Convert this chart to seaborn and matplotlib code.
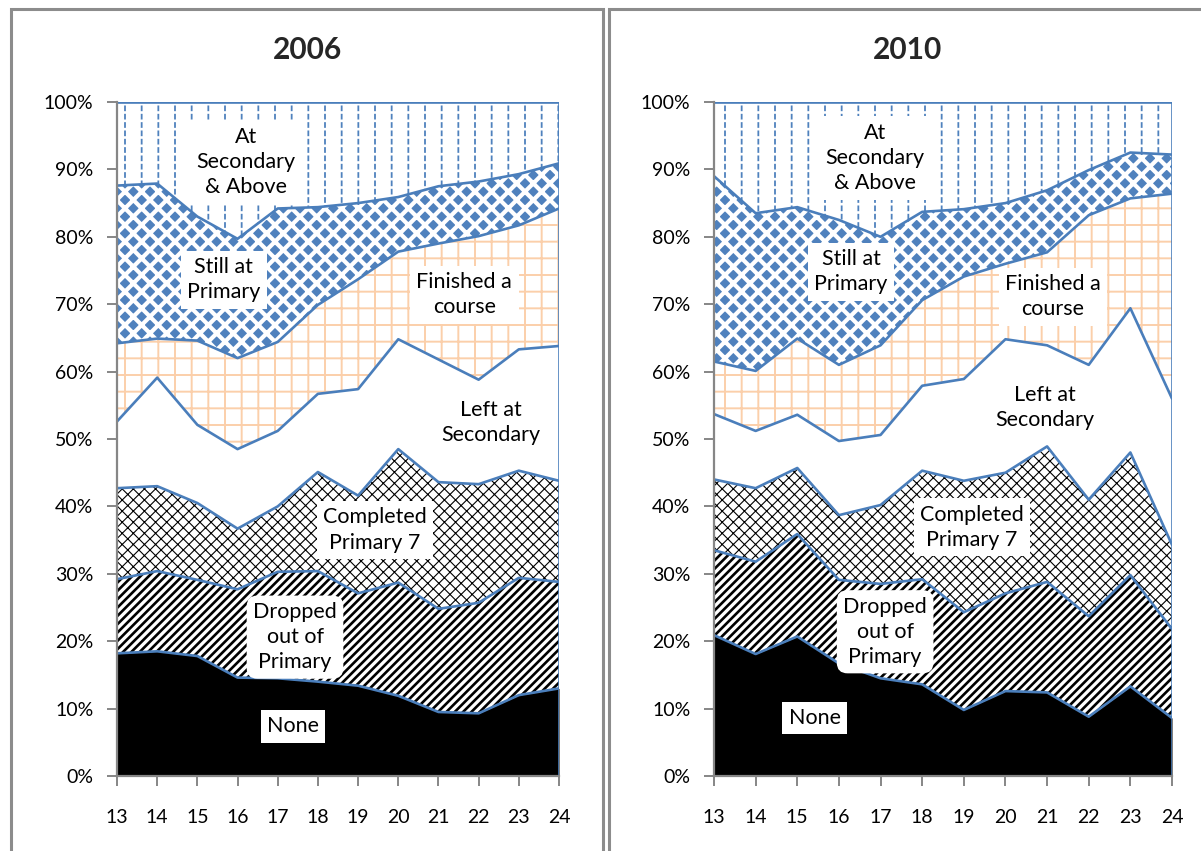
import numpy as np
import matplotlib
matplotlib.use("Agg")
import matplotlib.pyplot as plt
import seaborn as sns
from matplotlib.patches import Rectangle
from matplotlib.ticker import FuncFormatter

# ---------------- data (percent of each age group) ----------------
ages = [13, 14, 15, 16, 17, 18, 19, 20, 21, 22, 23, 24]
categories = ["None", "Dropped out of Primary", "Completed Primary 7",
              "Left at Secondary", "Finished a course", "Still at Primary",
              "At Secondary & Above"]
years = ["2006", "2010"]

none_2006      = [18.2, 18.5, 17.8, 14.6, 14.5, 14.0, 13.4, 11.9, 9.5, 9.3, 12.0, 13.0]
dropped_2006   = [11.0, 11.9, 11.3, 13.1, 15.8, 16.4, 13.7, 16.8, 15.3, 16.4, 17.4, 15.8]
completed_2006 = [13.5, 12.6, 11.4, 9.0, 9.7, 14.7, 14.5, 19.8, 18.8, 17.6, 15.9, 15.0]
leftsec_2006   = [9.9, 16.1, 11.6, 11.8, 11.2, 11.6, 15.8, 16.3, 18.2, 15.5, 18.0, 20.0]
finished_2006  = [11.6, 5.8, 12.5, 13.5, 13.2, 13.2, 16.3, 13.0, 17.2, 21.3, 18.4, 20.4]
stillpri_2006  = [23.4, 23.0, 18.4, 17.7, 19.8, 14.5, 11.3, 8.1, 8.5, 8.1, 7.6, 6.7]
atsec_2006     = [12.4, 12.1, 17.0, 20.3, 15.8, 15.6, 15.0, 14.1, 12.5, 11.8, 10.7, 9.1]

none_2010      = [20.9, 18.1, 20.7, 16.7, 14.5, 13.6, 9.8, 12.6, 12.4, 8.8, 13.3, 8.6]
dropped_2010   = [12.6, 13.7, 15.2, 12.4, 14.0, 15.6, 14.5, 14.5, 16.4, 14.9, 16.5, 13.2]
completed_2010 = [10.5, 10.9, 9.8, 9.6, 11.7, 16.1, 19.5, 17.9, 20.1, 17.3, 18.2, 12.5]
leftsec_2010   = [9.7, 8.5, 7.9, 11.0, 10.4, 12.6, 15.1, 19.8, 15.0, 20.0, 21.4, 21.7]
finished_2010  = [7.8, 8.9, 11.3, 11.3, 13.3, 12.7, 15.2, 11.2, 13.8, 22.2, 16.3, 30.4]
stillpri_2010  = [27.5, 23.4, 19.5, 21.5, 16.1, 13.1, 10.0, 9.0, 9.2, 6.7, 6.8, 5.8]
atsec_2010     = [11.0, 16.5, 15.6, 17.5, 20.0, 16.3, 15.9, 15.0, 13.1, 10.1, 7.5, 7.8]

series = {
    "2006": [none_2006, dropped_2006, completed_2006, leftsec_2006,
             finished_2006, stillpri_2006, atsec_2006],
    "2010": [none_2010, dropped_2010, completed_2010, leftsec_2010,
             finished_2010, stillpri_2010, atsec_2010],
}

# label texts and their (age, percent) anchor positions
label_texts = ["None", "Dropped\nout of\nPrimary", "Completed\nPrimary 7",
               "Left at\nSecondary", "Finished a\ncourse", "Still at\nPrimary",
               "At\nSecondary\n& Above"]
label_x = {"2006": [17.38, 17.43, 19.42, 22.31, 21.64, 15.66, 16.2],
           "2010": [15.42, 17.11, 19.20, 20.95, 21.14, 16.29, 16.87]}
label_y = {"2006": [7.4, 20.6, 36.5, 52.4, 71.4, 73.6, 91.1],
           "2010": [8.6, 21.4, 36.9, 54.7, 71.1, 74.8, 91.7]}

# ---------------- styles ----------------
LINE_BLUE = "#4A7EBB"
styles = [
    dict(fc="black", hatch=None, hc="black", hlw=1.0),
    dict(fc="white", hatch="////", hc="black", hlw=1.9),
    dict(fc="white", hatch="xxx", hc="black", hlw=0.8),
    dict(fc="white", hatch=None, hc="white", hlw=1.0),
    dict(fc="white", hatch="+", hc="#FBCFAA", hlw=1.4),
    dict(fc="#4F81BD", hatch="xx", hc="white", hlw=3.0),
    dict(fc="white", hatch="|", hc="#4F81BD", hlw=1.3),
]

sns.set_theme(style="white")
plt.rcParams["font.family"] = ["Lato", "DejaVu Sans"]

W, H = 1201, 851
fig = plt.figure(figsize=(W / 100, H / 100), dpi=100)

axes_px = {"2006": (117, 559), "2010": (714, 1172)}
title_x = {"2006": 307, "2010": 908}
top_px, bot_px = 102, 776


def hatched_fill(ax, lo, hi, fc, hc, hatch, hlw, z):
    with plt.rc_context({"hatch.linewidth": hlw}):
        pc = ax.fill_between(ages, lo, hi, facecolor=fc, edgecolor=hc,
                             hatch=hatch, linewidth=0, zorder=z)
        if hasattr(pc, "set_hatch_linewidth"):
            pc.set_hatch_linewidth(hlw)
    return pc


for yr in years:
    x0, x1 = axes_px[yr]
    ax = fig.add_axes([x0 / W, (H - bot_px) / H, (x1 - x0) / W, (bot_px - top_px) / H])
    vals = np.array(series[yr], dtype=float)
    vals = vals / vals.sum(axis=0) * 100.0
    cum = np.vstack([np.zeros(len(ages)), np.cumsum(vals, axis=0)])

    for i, st in enumerate(styles):
        hatched_fill(ax, cum[i], cum[i + 1], st["fc"], st["hc"], st["hatch"],
                     st["hlw"], 1 + i * 0.01)
    # break the vertical lines of the top layer into short dashes
    hatched_fill(ax, cum[-2], cum[-1], "none", "white", "--", 1.9, 1.5)

    for i in range(1, len(styles) + 1):
        sns.lineplot(x=ages, y=cum[i], ax=ax, color=LINE_BLUE, linewidth=1.9,
                     legend=False, zorder=3)
    ax.axvline(ages[-1], color=LINE_BLUE, linewidth=1.9, zorder=3)

    ax.set_xlim(ages[0], ages[-1])
    ax.set_ylim(0, 100)
    ax.set_xticks(ages)
    ax.set_yticks(np.arange(0, 101, 10))
    ax.yaxis.set_major_formatter(FuncFormatter(lambda v, p: f"{v:.0f}%"))
    for s in ("top", "right"):
        ax.spines[s].set_visible(False)
    for s in ("left", "bottom"):
        ax.spines[s].set_color("#868686")
        ax.spines[s].set_linewidth(1.6)
        ax.spines[s].set_zorder(4)
    ax.tick_params(axis="both", direction="out", length=7, width=1.4,
                   color="#868686", labelsize=14, labelcolor="black",
                   left=True, bottom=True)
    ax.tick_params(axis="x", pad=17)
    ax.tick_params(axis="y", pad=10)
    ax.set_xlabel("")
    ax.set_ylabel("")

    for i, txt in enumerate(label_texts):
        bs = "round,pad=0.3,rounding_size=0.5" if i == 1 else "square,pad=0.3"
        ax.text(label_x[yr][i], label_y[yr][i], txt, ha="center", va="center",
                fontsize=15.5, linespacing=1.32, color="black", zorder=10,
                bbox=dict(boxstyle=bs, fc="white", ec="none"))

    fig.text(title_x[yr] / W, 1 - 50 / H, yr, ha="center", va="center",
             fontsize=21.5, fontweight="bold")

# panel borders
fig.add_artist(Rectangle((11 / W, -0.02), (603 - 11) / W, 1.02 - 9 / H,
                         transform=fig.transFigure, fill=False,
                         ec="#8C8C8C", lw=2.2))
fig.add_artist(Rectangle((609 / W, -0.02), 0.6, 1.02 - 9 / H,
                         transform=fig.transFigure, fill=False,
                         ec="#8C8C8C", lw=2.2))

fig.savefig("out.png", dpi=100, facecolor="white")
